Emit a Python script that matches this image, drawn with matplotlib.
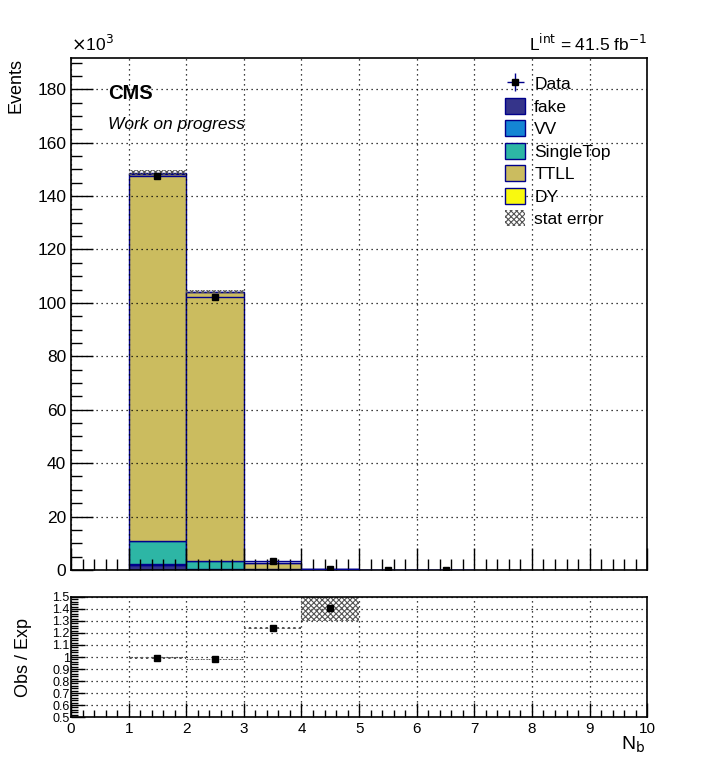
import numpy as np
import matplotlib
matplotlib.use("Agg")
import matplotlib.pyplot as plt
from matplotlib.ticker import MultipleLocator, NullFormatter

plt.rcParams['font.family'] = ['Liberation Sans', 'DejaVu Sans']
plt.rcParams['hatch.linewidth'] = 0.8

# ========================
# === DATI (in unita' di 10^3 eventi) ===
# ========================
bin_lo = np.array([1, 2, 3, 4, 5, 6])

fake      = np.array([2.0, 0.4, 0.05, 0.05, 0.0, 0.0])
vv        = np.array([0.3, 0.1, 0.02, 0.01, 0.0, 0.0])
singletop = np.array([8.4, 2.9, 0.15, 0.02, 0.0, 0.0])
ttll      = np.array([137.4, 100.5, 2.48, 0.17, 0.0, 0.0])
dy        = np.array([0.6, 0.3, 0.02, 0.01, 0.0, 0.0])

data      = np.array([147.4, 102.1, 3.37, 0.37, 0.06, 0.02])

# rapporto Obs/Exp e errore statistico
ratio     = np.array([0.99, 0.98, 1.24, 1.41])
ratio_err = np.array([0.006, 0.005, 0.01, 0.11])
stat_err  = np.array([0.9, 0.5, 0.03, 0.03, 0.0, 0.0])

proc_names  = ["fake", "VV", "SingleTop", "TTLL", "DY"]
proc_vals   = [fake, vv, singletop, ttll, dy]
proc_colors = ["#35348a", "#1485d4", "#2db6a5", "#cbbc5f", "#f9f90f"]

edge_col = "#00008b"

# ========================
# === FIGURA ===
# ========================
fig = plt.figure(figsize=(7.18, 7.76), dpi=100)
ax = fig.add_axes([0.0989, 0.2655, 0.8025, 0.6598])
axr = fig.add_axes([0.0989, 0.076, 0.8025, 0.1547])

# stack
bottom = np.zeros(len(bin_lo))
for name, vals, col in zip(proc_names, proc_vals, proc_colors):
    mask = vals > 0
    ax.bar(bin_lo[mask], vals[mask], width=1.0, bottom=bottom[mask], align="edge",
           color=col, edgecolor=edge_col, linewidth=1.0, label=name, zorder=2)
    bottom = bottom + vals

total = bottom
m = total > 0
ax.bar(bin_lo[m], 2 * stat_err[m], width=1.0, bottom=total[m] - stat_err[m], align="edge",
       facecolor="none", edgecolor="#555555", hatch="xxxxxx", linewidth=0,
       label="stat error", zorder=3)

# dati
ax.errorbar(bin_lo + 0.5, data, xerr=0.5, yerr=np.sqrt(data * 1e3) / 1e3,
            fmt="s", color="black", ms=4, ecolor=edge_col, elinewidth=1.0,
            capsize=0, label="Data", zorder=4)

ax.set_xlim(0, 10)
ax.set_ylim(0, 191.7)
ax.yaxis.set_major_locator(MultipleLocator(20))
ax.yaxis.set_minor_locator(MultipleLocator(5))
ax.xaxis.set_major_locator(MultipleLocator(1))
ax.xaxis.set_minor_locator(MultipleLocator(0.2))
ax.xaxis.set_major_formatter(NullFormatter())
ax.grid(True, which="major", color="black", linestyle=(0, (1, 3)), linewidth=0.9)
ax.set_axisbelow(False)
ax.tick_params(which="both", direction="in", top=False, right=False, labelsize=12.5)
ax.tick_params(which="major", length=16, width=1)
ax.tick_params(which="minor", length=8, width=1)
ax.set_ylabel("Events", fontsize=13, loc="top")
ax.yaxis.set_label_coords(-0.08, 1.0)
for sp in ax.spines.values():
    sp.set_linewidth(1.2)

ax.text(0.0, 1.008, r"$\times$10$^{3}$", transform=ax.transAxes, fontsize=12.5,
        ha="left", va="bottom")
ax.text(1.0, 1.008, r"L$^{\rm int}$ = 41.5 fb$^{-1}$", transform=ax.transAxes,
        fontsize=12.5, ha="right", va="bottom")
ax.text(0.065, 0.93, "CMS", transform=ax.transAxes, fontsize=14.5, fontweight="bold",
        ha="left", va="center")
ax.text(0.065, 0.87, "Work on progress", transform=ax.transAxes, fontsize=12.5,
        style="italic", ha="left", va="center")

handles, labels = ax.get_legend_handles_labels()
order = [labels.index(n) for n in ["Data"] + proc_names + ["stat error"]]
leg = ax.legend([handles[i] for i in order], [labels[i] for i in order],
                loc="upper left", bbox_to_anchor=(0.742, 0.98), frameon=False,
                fontsize=12.5, handlelength=1.15, handleheight=1.05,
                labelspacing=0.32, handletextpad=0.5, borderaxespad=0)

# ========================
# === RAPPORTO ===
# ========================
rb = bin_lo[:len(ratio)]
axr.bar(rb, 2 * ratio_err, width=1.0, bottom=ratio - ratio_err, align="edge",
        facecolor="none", edgecolor="#555555", hatch="xxxxxx", linewidth=0, zorder=2)
axr.errorbar(rb + 0.5, ratio, yerr=ratio_err * 0.1, fmt="s", color="black", ms=4,
             ecolor="black", elinewidth=1.0, capsize=0, zorder=3)

axr.set_xlim(0, 10)
axr.set_ylim(0.5, 1.5)
axr.yaxis.set_major_locator(MultipleLocator(0.1))
axr.yaxis.set_minor_locator(MultipleLocator(0.02))
axr.xaxis.set_major_locator(MultipleLocator(1))
axr.xaxis.set_minor_locator(MultipleLocator(0.2))
axr.set_yticks(np.round(np.arange(0.5, 1.51, 0.1), 1))
axr.set_yticklabels(["0.5", "0.6", "0.7", "0.8", "0.9", "1", "1.1", "1.2", "1.3", "1.4", "1.5"])
axr.grid(True, which="major", color="black", linestyle=(0, (1, 3)), linewidth=0.9)
axr.tick_params(which="both", direction="in", top=False, right=False)
axr.tick_params(axis="y", which="major", length=10, width=1, labelsize=9, pad=1)
axr.tick_params(axis="y", which="minor", length=5, width=1)
axr.tick_params(axis="x", which="major", length=10, width=1, labelsize=11)
axr.tick_params(axis="x", which="minor", length=5, width=1)
axr.set_ylabel("Obs / Exp", fontsize=13)
axr.yaxis.set_label_coords(-0.068, 0.5)
axr.set_xlabel(r"N$_{\rm b}$", fontsize=14)
axr.xaxis.set_label_coords(0.975, -0.15)
for sp in axr.spines.values():
    sp.set_linewidth(1.2)

fig.savefig("out.png", dpi=100)
